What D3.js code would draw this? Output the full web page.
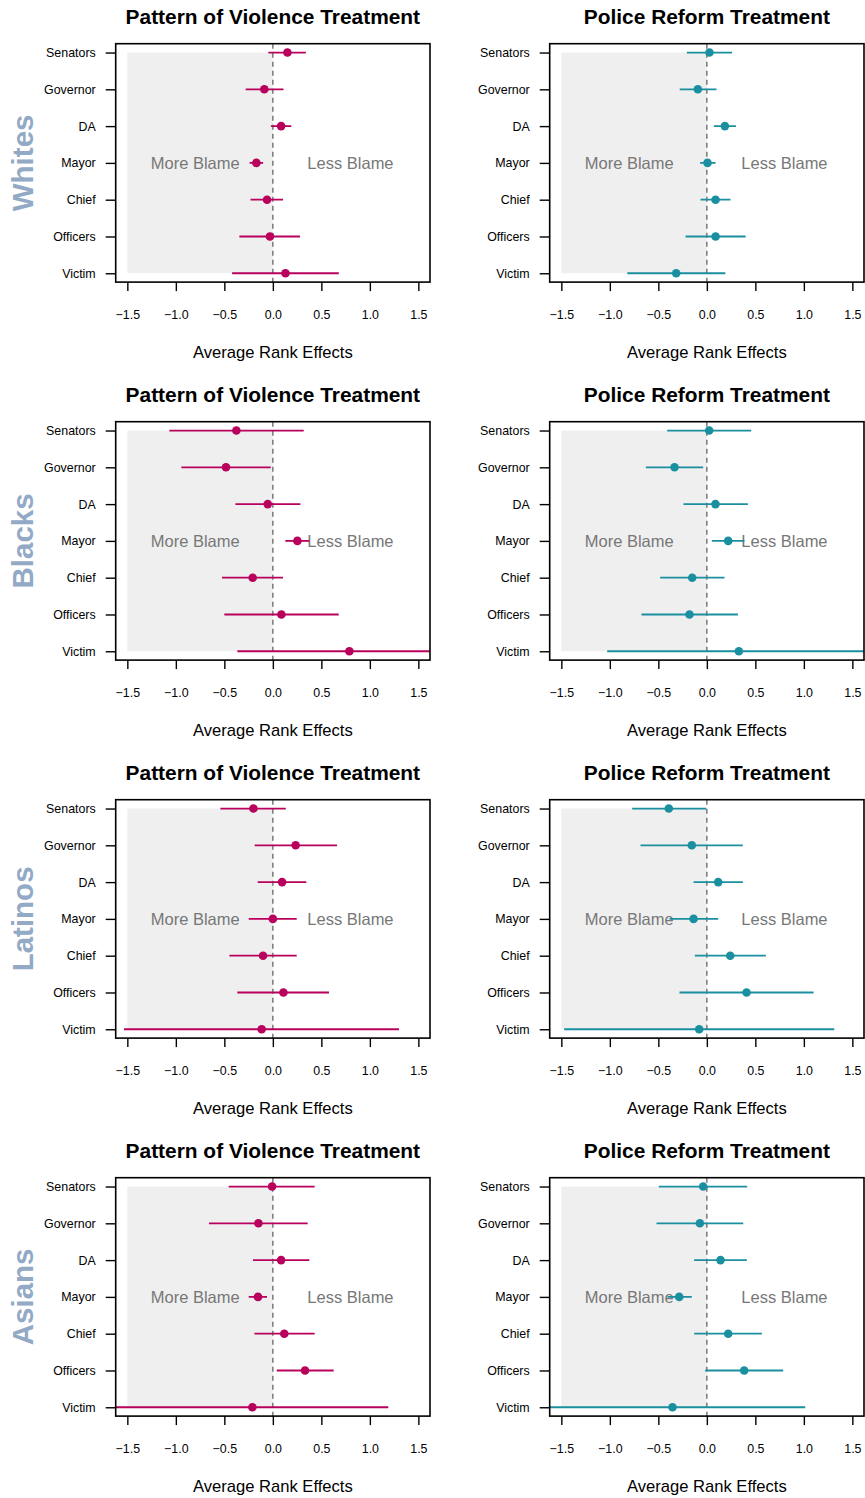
<!DOCTYPE html>
<html><head><meta charset="utf-8">
<script src="https://cdn.jsdelivr.net/npm/d3@7"></script>
<style>body{margin:0;background:#fff}svg{display:block}</style>
</head><body>
<script>
const categories = ["Senators","Governor","DA","Mayor","Chief","Officers","Victim"];
const groups = ["Whites","Blacks","Latinos","Asians"];
const treatments = ["Pattern of Violence Treatment","Police Reform Treatment"];
const xTicks = [-1.5,-1.0,-0.5,0.0,0.5,1.0,1.5];

const whites_pov_est = [0.15,-0.088,0.085,-0.17,-0.06,-0.03,0.13];
const whites_pov_lo  = [-0.046,-0.28,-0.02,-0.24,-0.23,-0.345,-0.42];
const whites_pov_hi  = [0.34,0.11,0.19,-0.10,0.105,0.28,0.68];
const whites_pr_est  = [0.027,-0.093,0.186,0.007,0.09,0.09,-0.316];
const whites_pr_lo   = [-0.206,-0.28,0.072,-0.07,-0.065,-0.22,-0.82];
const whites_pr_hi   = [0.26,0.10,0.30,0.09,0.244,0.40,0.19];

const blacks_pov_est = [-0.376,-0.483,-0.053,0.253,-0.208,0.088,0.789];
const blacks_pov_lo  = [-1.067,-0.943,-0.386,0.129,-0.524,-0.5,-0.366];
const blacks_pov_hi  = [0.318,-0.022,0.284,0.376,0.105,0.679,1.944];
const blacks_pr_est  = [0.024,-0.333,0.089,0.22,-0.151,-0.179,0.33];
const blacks_pr_lo   = [-0.409,-0.629,-0.241,0.052,-0.481,-0.674,-1.027];
const blacks_pr_hi   = [0.457,-0.038,0.423,0.388,0.182,0.32,1.687];

const latinos_pov_est = [-0.2,0.235,0.095,0.0,-0.101,0.109,-0.115];
const latinos_pov_lo  = [-0.541,-0.187,-0.156,-0.249,-0.448,-0.366,-1.534];
const latinos_pov_hi  = [0.133,0.662,0.345,0.246,0.246,0.579,1.30];
const latinos_pr_est  = [-0.392,-0.155,0.117,-0.137,0.241,0.409,-0.079];
const latinos_pr_lo   = [-0.77,-0.684,-0.137,-0.385,-0.124,-0.282,-1.471];
const latinos_pr_hi   = [-0.007,0.371,0.371,0.117,0.608,1.10,1.313];

const asians_pov_est = [-0.008,-0.149,0.085,-0.153,0.118,0.332,-0.211];
const asians_pov_lo  = [-0.455,-0.658,-0.204,-0.249,-0.19,0.04,-1.65];
const asians_pov_hi  = [0.431,0.359,0.376,-0.06,0.431,0.627,1.19];
const asians_pr_est  = [-0.038,-0.072,0.141,-0.285,0.22,0.385,-0.354];
const asians_pr_lo   = [-0.495,-0.519,-0.131,-0.405,-0.131,-0.017,-1.73];
const asians_pr_hi   = [0.416,0.375,0.412,-0.155,0.567,0.787,1.014];

const panelData = [
  [[whites_pov_est,whites_pov_lo,whites_pov_hi],[whites_pr_est,whites_pr_lo,whites_pr_hi]],
  [[blacks_pov_est,blacks_pov_lo,blacks_pov_hi],[blacks_pr_est,blacks_pr_lo,blacks_pr_hi]],
  [[latinos_pov_est,latinos_pov_lo,latinos_pov_hi],[latinos_pr_est,latinos_pr_lo,latinos_pr_hi]],
  [[asians_pov_est,asians_pov_lo,asians_pov_hi],[asians_pr_est,asians_pr_lo,asians_pr_hi]]
];
const colors = ["#b8005c","#1a8fa0"];

const W = 865, H = 1498;
const font = "'Liberation Sans', Arial, Helvetica, sans-serif";
const svg = d3.select("body").append("svg").attr("width",W).attr("height",H)
  .style("font-family",font);

const rowH = 378;
const colX = [[115.7,430],[549.7,864]];
const boxTop = 43.7, boxBot = 282.1;

groups.forEach((g,gi)=>{
  const row = svg.append("g").attr("transform",`translate(0,${gi*rowH})`);
  row.append("text").attr("transform",`translate(33,${(boxTop+boxBot)/2}) rotate(-90)`)
    .attr("text-anchor","middle").attr("font-size",29.5).attr("font-weight","bold")
    .attr("fill","#92aac6").text(g);

  treatments.forEach((t,ti)=>{
    const [x0,x1] = colX[ti];
    const x = d3.scaleLinear().domain([-1.62,1.62]).range([x0,x1]);
    const y = d3.scaleLinear().domain([0.76,7.24]).range([boxBot,boxTop]);
    const pos = i => 7 - i;
    const p = row.append("g");
    const clipId = `clip-${gi}-${ti}`;
    p.append("clipPath").attr("id",clipId).append("rect")
      .attr("x",x0).attr("y",boxTop).attr("width",x1-x0).attr("height",boxBot-boxTop);

    p.append("rect").attr("x",x(-1.5)).attr("y",y(7)).attr("width",x(0)-x(-1.5))
      .attr("height",y(1)-y(7)).attr("fill","#efefef");

    p.append("text").attr("x",x(-0.8)).attr("y",y(4)+6).attr("text-anchor","middle")
      .attr("font-size",16.5).attr("fill","#777").text("More Blame");
    p.append("text").attr("x",x(0.8)).attr("y",y(4)+6).attr("text-anchor","middle")
      .attr("font-size",16.5).attr("fill","#777").text("Less Blame");

    p.append("line").attr("x1",x(0)).attr("x2",x(0)).attr("y1",boxTop).attr("y2",boxBot)
      .attr("stroke","#707070").attr("stroke-width",1.4).attr("stroke-dasharray","5,4");

    const [est,lo,hi] = panelData[gi][ti];
    const col = colors[ti];
    const marks = p.append("g").attr("clip-path",`url(#${clipId})`);
    marks.selectAll("line.ci").data(categories).join("line").attr("class","ci")
      .attr("x1",(d,i)=>x(lo[i])).attr("x2",(d,i)=>x(hi[i]))
      .attr("y1",(d,i)=>y(pos(i))).attr("y2",(d,i)=>y(pos(i)))
      .attr("stroke",col).attr("stroke-width",1.8);
    marks.selectAll("circle").data(categories).join("circle")
      .attr("cx",(d,i)=>x(est[i])).attr("cy",(d,i)=>y(pos(i))).attr("r",4.3)
      .attr("fill",col);

    p.append("rect").attr("x",x0).attr("y",boxTop).attr("width",x1-x0).attr("height",boxBot-boxTop)
      .attr("fill","none").attr("stroke","#000").attr("stroke-width",1.6);

    const xa = p.append("g").attr("transform",`translate(0,${boxBot})`)
      .call(d3.axisBottom(x).tickValues(xTicks).tickFormat(d3.format(".1f"))
        .tickSize(9).tickSizeOuter(0).tickPadding(18.7));
    xa.select(".domain").remove();
    xa.selectAll("line").attr("stroke","#000").attr("stroke-width",1.4);
    xa.selectAll("text").attr("font-size",12.4).attr("font-family",font).attr("fill","#000");

    const ya = p.append("g").attr("transform",`translate(${x0},0)`)
      .call(d3.axisLeft(y).tickValues(categories.map((c,i)=>pos(i)))
        .tickFormat(v=>categories[7-v]).tickSize(10).tickSizeOuter(0).tickPadding(10));
    ya.select(".domain").remove();
    ya.selectAll("line").attr("stroke","#000").attr("stroke-width",1.4);
    ya.selectAll("text").attr("font-size",12.4).attr("font-family",font).attr("fill","#000");

    p.append("text").attr("x",(x0+x1)/2).attr("y",24).attr("text-anchor","middle")
      .attr("font-size",20.9).attr("font-weight","bold").attr("fill","#000").text(t);
    p.append("text").attr("x",(x0+x1)/2).attr("y",357.7).attr("text-anchor","middle")
      .attr("font-size",16.6).attr("fill","#000").text("Average Rank Effects");
  });
});
</script>
</body></html>
